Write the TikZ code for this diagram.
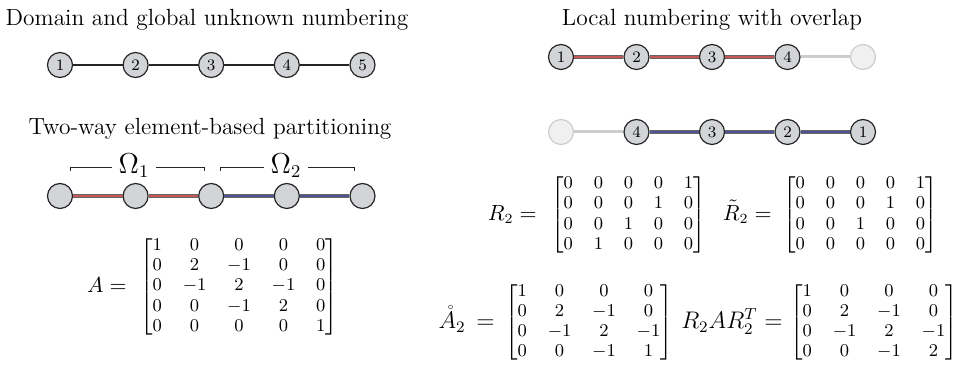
\documentclass[tikz,border=0pt]{standalone}
\usepackage{amsmath}
\definecolor{nodegray}{RGB}{211,212,215}
\definecolor{redc}{RGB}{200,88,88}
\definecolor{bluec}{RGB}{78,84,150}
\definecolor{ghostfill}{RGB}{240,240,240}
\definecolor{ghostdraw}{RGB}{205,205,205}
\begin{document}
\begin{tikzpicture}[x=0.5pt,y=-0.5pt,
  vtx/.style={circle,draw=black!85,fill=nodegray,line width=0.6pt,minimum size=12.5pt,inner sep=0pt,font=\fontsize{8}{9}\selectfont},
  ghost/.style={circle,draw=ghostdraw,fill=ghostfill,line width=0.6pt,minimum size=12.5pt,inner sep=0pt},
  plainE/.style={draw=black!85,line width=0.7pt},
  redE/.style={draw=black!60,line width=0.45pt,double=redc,double distance=0.9pt},
  blueE/.style={draw=black!60,line width=0.45pt,double=bluec,double distance=0.9pt},
  ghostE/.style={draw=ghostdraw,line width=1.5pt},
  ttl/.style={font=\fontsize{11.7}{14}\selectfont,inner sep=0pt},
  omg/.style={font=\fontsize{13.5}{16}\selectfont,inner sep=3pt},
  brk/.style={draw=black!85,line width=0.45pt},
  mlab/.style={inner sep=0pt,anchor=base east,font=\fontsize{10.5}{12.6}\selectfont},
  mlabb/.style={inner sep=0pt,anchor=base east,font=\fontsize{12}{14}\selectfont},
  mtx/.style={inner sep=0pt,anchor=west,font=\fontsize{9}{11}\selectfont},
]
\useasboundingbox (0,0) rectangle (955,367);
\renewcommand{\arraystretch}{0.91}
\setlength{\arraycolsep}{5.2pt}

% titles
\node[ttl] (t1) at (207,20) {Domain and global unknown numbering};
\node[ttl] (t2) at (210,129) {Two-way element-based partitioning};
\node[ttl] (t3) at (712,20) {Local numbering with overlap};

% global chain
\node[vtx] (g1) at (60,65) {1};
\node[vtx] (g2) at (135.6,65) {2};
\node[vtx] (g3) at (211.2,65) {3};
\node[vtx] (g4) at (286.8,65) {4};
\node[vtx] (g5) at (362.5,65) {5};
\draw[plainE] (g1) -- (g2);
\draw[plainE] (g2) -- (g3);
\draw[plainE] (g3) -- (g4);
\draw[plainE] (g4) -- (g5);

% partition chain
\node[vtx] (p1) at (60,196) {};
\node[vtx] (p2) at (135.6,196) {};
\node[vtx] (p3) at (211.2,196) {};
\node[vtx] (p4) at (286.8,196) {};
\node[vtx] (p5) at (362.5,196) {};
\draw[redE] (p1) -- (p2);
\draw[redE] (p2) -- (p3);
\draw[blueE] (p3) -- (p4);
\draw[blueE] (p4) -- (p5);

% Omega brackets
\node[omg] (o1) at (134,166) {$\Omega_1$};
\node[omg] (o2) at (286,166) {$\Omega_2$};
\coordinate (b1a) at (70,171);
\coordinate (b1b) at (70,167);
\coordinate (b1c) at (204,167);
\coordinate (b1d) at (204,171);
\coordinate (b2a) at (220,171);
\coordinate (b2b) at (220,167);
\coordinate (b2c) at (354,167);
\coordinate (b2d) at (354,171);
\draw[brk] (b1a) -- (b1b) -- (b1b -| o1.west);
\draw[brk] (b1c -| o1.east) -- (b1c) -- (b1d);
\draw[brk] (b2a) -- (b2b) -- (b2b -| o2.west);
\draw[brk] (b2c -| o2.east) -- (b2c) -- (b2d);

% local chain 1
\node[vtx] (a1) at (561,57) {1};
\node[vtx] (a2) at (636.5,57) {2};
\node[vtx] (a3) at (712,57) {3};
\node[vtx] (a4) at (787.5,57) {4};
\node[ghost] (a5) at (863,57) {};
\draw[redE] (a1) -- (a2);
\draw[redE] (a2) -- (a3);
\draw[redE] (a3) -- (a4);
\draw[ghostE] (a4) -- (a5);

% local chain 2
\node[ghost] (c0) at (561,132) {};
\node[vtx] (c4) at (636.5,132) {4};
\node[vtx] (c3) at (712,132) {3};
\node[vtx] (c2) at (787.5,132) {2};
\node[vtx] (c1) at (863,132) {1};
\draw[ghostE] (c0) -- (c4);
\draw[blueE] (c4) -- (c3);
\draw[blueE] (c3) -- (c2);
\draw[blueE] (c2) -- (c1);

% matrix A
\node[mlab] (Al) at (127,292.3) {$A=$};
\node[mtx] (Am) at (140,287) {$\begin{bmatrix}1&0&0&0&0\\0&2&-1&0&0\\0&-1&2&-1&0\\0&0&-1&2&0\\0&0&0&0&1\end{bmatrix}$};

% R2
\node[mlab] (Rl) at (537,220.3) {$R_2=$};
\node[mtx] (Rm) at (551,215) {$\begin{bmatrix}0&0&0&0&1\\0&0&0&1&0\\0&0&1&0&0\\0&1&0&0&0\end{bmatrix}$};

% R tilde
\node[mlab] (Tl) at (772,220.3) {$\tilde{R}_2=$};
\node[mtx] (Tm) at (783,215) {$\begin{bmatrix}0&0&0&0&1\\0&0&0&1&0\\0&0&1&0&0\\0&0&0&0&0\end{bmatrix}$};

% A ring
\node[mlabb] (Kl) at (495,328.5) {$\mathring{A}_2\,=$};
\node[mtx] (Km) at (505,322.5) {$\begin{bmatrix}1&0&0&0\\0&2&-1&0\\0&-1&2&-1\\0&0&-1&1\end{bmatrix}$};

% R A R^T
\node[mlabb] (Pl) at (783,328.5) {$R_2AR_2^T=$};
\node[mtx] (Pm) at (790,322.5) {$\begin{bmatrix}1&0&0&0\\0&2&-1&0\\0&-1&2&-1\\0&0&-1&2\end{bmatrix}$};
\end{tikzpicture}
\end{document}
